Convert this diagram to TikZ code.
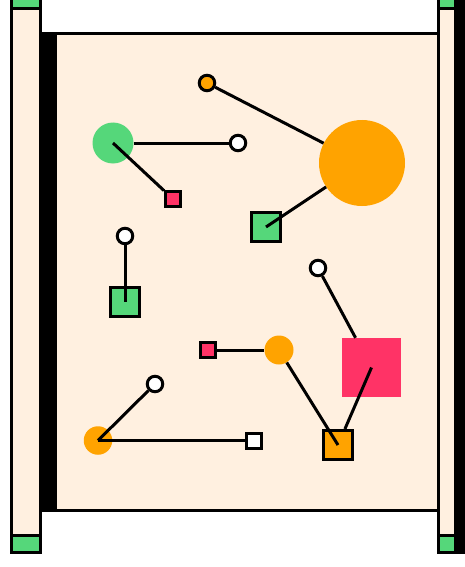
\documentclass[tikz,border=0pt]{standalone}
\definecolor{cream}{HTML}{FFF0E0}
\definecolor{grn}{HTML}{55D77A}
\definecolor{org}{HTML}{FFA300}
\definecolor{pnk}{HTML}{FF3366}
\begin{document}
\begin{tikzpicture}[x=1pt,y=-1pt,
  frame/.style={line width=3pt},
  edge/.style={line width=3pt},
  ring/.style={circle,draw,line width=3pt,fill=white,minimum size=15.5pt,inner sep=0pt},
  dotor/.style={circle,draw,line width=3pt,fill=org,minimum size=15.5pt,inner sep=0pt},
  blob/.style={circle,inner sep=0pt,minimum size=#1},
  smallsq/.style={rectangle,draw,line width=3pt,minimum size=15pt,inner sep=0pt},
  midsq/.style={rectangle,draw,line width=3pt,minimum size=29pt,inner sep=0pt}
]
\useasboundingbox (0,0) rectangle (465,567);
\clip (0,0) rectangle (465,567);
% frame
\draw[frame,fill=cream] (11.5,-10) rectangle (40.5,552.5);
\draw[frame,fill=grn] (11.5,-10) rectangle (40.5,8.5);
\draw[frame,fill=grn] (11.5,535.5) rectangle (40.5,552.5);
\fill[black] (40,32) rectangle (57,512);
\draw[frame,fill=cream] (55.5,33.5) rectangle (438.5,510.5);
\fill[black] (455,-5) rectangle (465,554);
\draw[frame,fill=cream] (438.5,-10) rectangle (455.5,552.5);
\draw[frame,fill=grn] (438.5,-10) rectangle (455.5,8.5);
\draw[frame,fill=grn] (438.5,535.5) rectangle (455.5,552.5);
% nodes
\node[dotor] (o1) at (207,83) {};
\node[blob=86pt,fill=org] (O) at (362,163) {};
\node[blob=41pt,fill=grn] (g) at (113,143) {};
\node[ring] (w1) at (238,143) {};
\node[smallsq,fill=pnk] (r1) at (173,199) {};
\node[midsq,fill=grn] (s1) at (266,227) {};
\node[ring] (w2) at (125,236) {};
\node[midsq,fill=grn] (s2) at (125,302) {};
\node[ring] (w3) at (318,268) {};
\node[rectangle,inner sep=0pt,minimum size=59pt,fill=pnk] (R) at (371.5,367.5) {};
\node[smallsq,fill=pnk] (r2) at (208,350) {};
\node[blob=29pt,fill=org] (o2) at (279,350) {};
\node[midsq,fill=org] (s3) at (338,445) {};
\node[blob=28.5pt,fill=org] (o3) at (98,440.5) {};
\node[ring] (w4) at (155,384) {};
\node[smallsq,fill=white] (s4) at (254,440.5) {};
% connectors
\draw[edge] (o1) -- (O);
\draw[edge] (g) -- (w1);
\draw[edge] (g.center) -- (r1);
\draw[edge] (s1.center) -- (O);
\draw[edge] (w2) -- (s2.center);
\draw[edge] (w3) -- (R);
\draw[edge] (r2) -- (o2);
\draw[edge] (o2) -- (s3.center);
\draw[edge] (R.center) -- (s3);
\draw[edge] (o3.center) -- (w4);
\draw[edge] (o3.center) -- (s4);
\end{tikzpicture}
\end{document}
